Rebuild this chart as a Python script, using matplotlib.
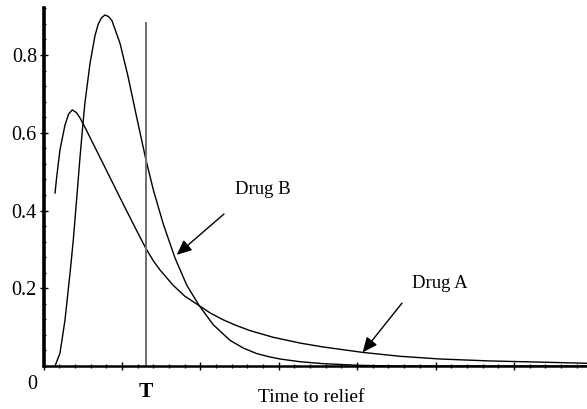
import numpy as np
import matplotlib
matplotlib.use('Agg')
import matplotlib.pyplot as plt
from matplotlib.ticker import MultipleLocator

# values
drug_a_x = [0.147, 0.168, 0.210, 0.274, 0.320, 0.367, 0.420, 0.466, 0.529, 0.593,
            0.806, 1.018, 1.189, 1.307, 1.400, 1.486, 1.652, 1.800, 1.987, 2.130,
            2.290, 2.450, 2.634, 2.927, 3.272, 3.565, 4.071, 4.547, 5.057, 5.695,
            6.333, 6.932]
drug_a_y = [0.445, 0.486, 0.556, 0.620, 0.648, 0.659, 0.652, 0.638, 0.614, 0.588,
            0.502, 0.416, 0.348, 0.302, 0.271, 0.247, 0.208, 0.180, 0.155, 0.136,
            0.119, 0.105, 0.091, 0.074, 0.059, 0.049, 0.035, 0.025, 0.018, 0.013,
            0.010, 0.007]

drug_b_x = [0.147, 0.210, 0.274, 0.338, 0.380, 0.423, 0.466, 0.504, 0.529, 0.593,
            0.657, 0.699, 0.740, 0.784, 0.830, 0.874, 0.976, 1.078, 1.180, 1.307,
            1.401, 1.528, 1.677, 1.827, 1.987, 2.166, 2.379, 2.550, 2.719, 2.870,
            3.017, 3.272, 3.569, 3.995, 4.420, 6.932]
drug_b_y = [0.000, 0.033, 0.118, 0.238, 0.324, 0.430, 0.538, 0.625, 0.678, 0.778,
            0.850, 0.880, 0.896, 0.903, 0.899, 0.888, 0.830, 0.745, 0.648, 0.530,
            0.453, 0.365, 0.278, 0.208, 0.155, 0.106, 0.066, 0.046, 0.032, 0.024,
            0.018, 0.011, 0.006, 0.002, 0.000, 0.000]

t_value = 1.307
t_line_top = 0.882
y_ticks = [0.2, 0.4, 0.6, 0.8]

plt.rcParams['font.family'] = ['Liberation Serif', 'DejaVu Serif']

fig = plt.figure(figsize=(5.87, 4.09), dpi=100)
ax = fig.add_axes([43.5 / 587, 1 - 366 / 409, 1 - 43.5 / 587, (366 - 8) / 409])

ax.plot(drug_a_x, drug_a_y, color='black', lw=1.0)
ax.plot(drug_b_x, drug_b_y, color='black', lw=1.0)
ax.plot([t_value, t_value], [0, t_line_top], color='#6e6e6e', lw=1.4)

ax.set_xlim(0, 6.932)
ax.set_ylim(0, 0.921)

# axis look: only left and bottom spines, thick
for side in ['top', 'right']:
    ax.spines[side].set_visible(False)
ax.spines['left'].set_linewidth(2.6)
ax.spines['bottom'].set_linewidth(1.8)

ax.set_yticks(y_ticks)
ax.set_yticklabels([str(v) for v in y_ticks], fontsize=14.5)
ax.yaxis.set_minor_locator(MultipleLocator(0.04))
ax.xaxis.set_major_locator(MultipleLocator(1))
ax.xaxis.set_minor_locator(MultipleLocator(0.2))
ax.set_xticklabels([])
ax.tick_params(which='major', direction='inout', length=5.5, width=1.0, pad=2)
ax.tick_params(which='minor', direction='inout', length=3.2, width=0.9)

# labels below the axis
ax.annotate('0', xy=(0, 0), xycoords='data', xytext=(-8, -13), textcoords='offset points',
            ha='center', va='center', fontsize=14.5)
ax.annotate('T', xy=(t_value, 0), xycoords='data', xytext=(0, -19), textcoords='offset points',
            ha='center', va='center', fontsize=15.5, fontweight='bold')
ax.annotate('Time to relief', xy=(3.42, 0), xycoords='data', xytext=(0, -23),
            textcoords='offset points', ha='center', va='center', fontsize=14)

# drug labels with arrows
arrow_style = dict(arrowstyle='-|>,head_length=0.45,head_width=0.2', color='black',
                   lw=1.0, mutation_scale=20, shrinkA=0, shrinkB=0)
ax.annotate('', xy=(1.699, 0.286), xytext=(2.302, 0.391), arrowprops=arrow_style)
ax.annotate('', xy=(4.071, 0.035), xytext=(4.573, 0.162), arrowprops=arrow_style)
ax.text(2.443, 0.455, 'Drug B', fontsize=13.5, ha='left', va='center')
ax.text(4.70, 0.2135, 'Drug A', fontsize=13.5, ha='left', va='center')

fig.savefig('out.png', dpi=100)
